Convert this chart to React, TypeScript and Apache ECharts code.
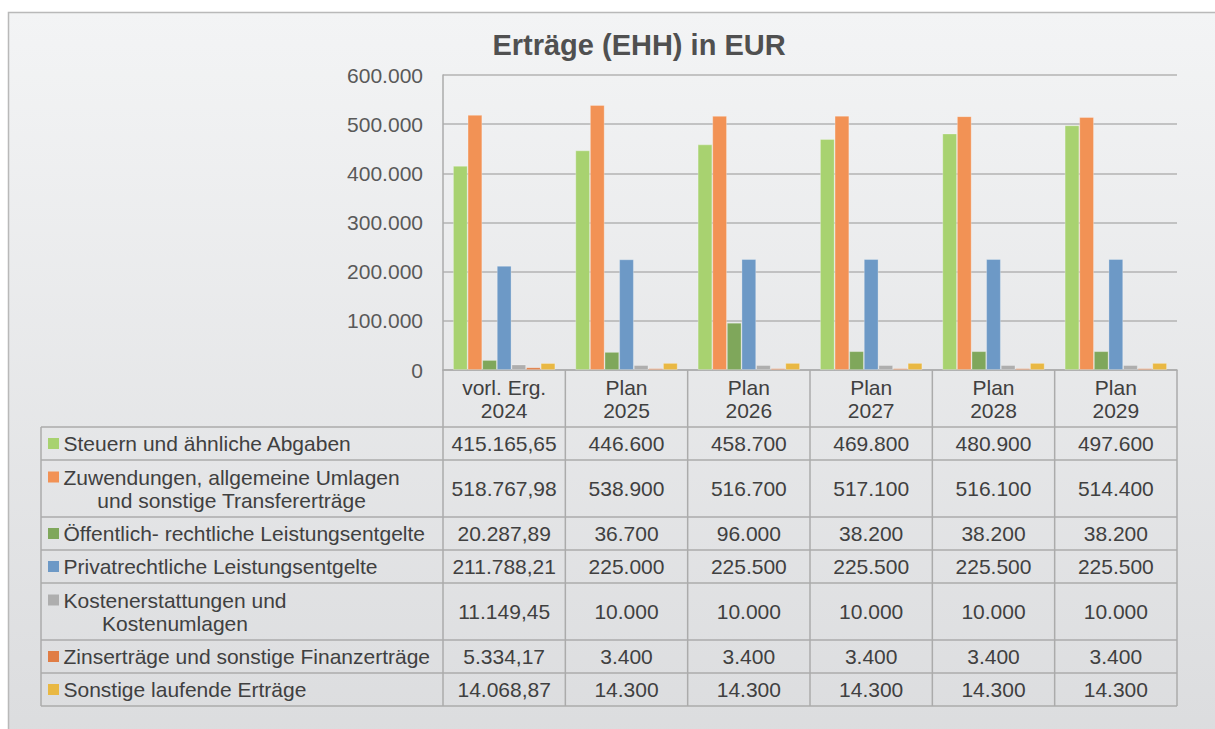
import { useEffect, useRef } from "react";
import * as echarts from "echarts";

const titleText = "Erträge (EHH) in EUR";
const categories = ["vorl. Erg.\n2024", "Plan\n2025", "Plan\n2026", "Plan\n2027", "Plan\n2028", "Plan\n2029"];
const seriesNames = [
  "Steuern und ähnliche Abgaben",
  "Zuwendungen, allgemeine Umlagen\nund sonstige Transfererträge",
  "Öffentlich- rechtliche Leistungsentgelte",
  "Privatrechtliche Leistungsentgelte",
  "Kostenerstattungen und\nKostenumlagen",
  "Zinserträge und sonstige Finanzerträge",
  "Sonstige laufende Erträge",
];
const seriesColors = ["#A8D270", "#F29255", "#7FA75B", "#6D99C6", "#AEAEAE", "#E07D45", "#E9B843"];
const steuern = [415165.65, 446600, 458700, 469800, 480900, 497600];
const zuwendungen = [518767.98, 538900, 516700, 517100, 516100, 514400];
const oeffentlich = [20287.89, 36700, 96000, 38200, 38200, 38200];
const privat = [211788.21, 225000, 225500, 225500, 225500, 225500];
const kosten = [11149.45, 10000, 10000, 10000, 10000, 10000];
const zins = [5334.17, 3400, 3400, 3400, 3400, 3400];
const sonstige = [14068.87, 14300, 14300, 14300, 14300, 14300];
const seriesValues = [steuern, zuwendungen, oeffentlich, privat, kosten, zins, sonstige];
const yMin = 0;
const yMax = 600000;
const yInterval = 100000;

const FONT = '"Liberation Sans", Arial, Helvetica, sans-serif';
const TEXT = "#404040";
const LINE = "#ababab";

function fmt(v: number): string {
  const isInt = Math.abs(v - Math.round(v)) < 1e-9;
  const s = isInt ? String(Math.round(v)) : v.toFixed(2);
  const [i, d] = s.split(".");
  const ii = i.replace(/\B(?=(\d{3})+(?!\d))/g, ".");
  return d ? ii + "," + d : ii;
}

export default function App() {
  const ref = useRef<HTMLDivElement>(null);
  useEffect(() => {
    if (!ref.current) return;
    const chart = echarts.init(ref.current, null, { renderer: "svg" });
    chart.setOption({
      animation: false,
      grid: { left: 443, right: 38, top: 75, bottom: 359, containLabel: false },
      xAxis: {
        type: "category",
        data: categories,
        axisLabel: { show: false },
        axisTick: { show: false },
        axisLine: { show: true, lineStyle: { color: LINE, width: 1.5 } },
      },
      yAxis: {
        type: "value",
        min: yMin,
        max: yMax,
        interval: yInterval,
        axisLine: { show: true, lineStyle: { color: LINE, width: 1.5 } },
        axisTick: { show: false },
        splitLine: { lineStyle: { color: "#b3b3b3", width: 1.5 } },
        axisLabel: {
          formatter: (v: number) => fmt(v),
          fontSize: 21,
          fontFamily: FONT,
          color: "#595959",
          margin: 20,
        },
      },
      series: seriesNames.map((name, k) => ({
        type: "bar",
        name,
        data: seriesValues[k],
        barGap: "0%",
        barCategoryGap: "16.4%",
        itemStyle: { color: seriesColors[k], borderColor: "rgba(255,255,255,0.35)", borderWidth: 0.8 },
      })),
    });

    const ctx = document.createElement("canvas").getContext("2d")!;
    ctx.font = `21px ${FONT}`;

    const yZero = chart.convertToPixel({ yAxisIndex: 0 }, 0) as number;
    const c0 = chart.convertToPixel({ xAxisIndex: 0 }, 0) as number;
    const c1 = chart.convertToPixel({ xAxisIndex: 0 }, 1) as number;
    const band = c1 - c0;
    const gridLeft = c0 - band / 2;
    const colEdges = categories.map((_, i) => gridLeft + i * band);
    const gridRight = gridLeft + categories.length * band;
    const tableLeft = 41;
    const headerH = 57;
    const rowHs = seriesNames.map((n) => (n.split("\n").length > 1 ? 57 : 33));
    const rowTops: number[] = [];
    let yy = yZero + headerH;
    rowHs.forEach((h) => {
      rowTops.push(yy);
      yy += h;
    });
    const tableBottom = yy;

    const els: any[] = [];
    els.push({
      type: "rect",
      z: -100,
      silent: true,
      shape: { x: 8.5, y: 12.5, width: 1230, height: 740 },
      style: {
        fill: new echarts.graphic.LinearGradient(0, 0, 0, 1, [
          { offset: 0, color: "#F3F4F5" },
          { offset: 1, color: "#DBDCDE" },
        ]),
        stroke: "#b9b9b9",
        lineWidth: 1.5,
      },
    });
    els.push({
      type: "text",
      x: 639,
      y: 45,
      style: {
        text: titleText,
        font: `bold 29px ${FONT}`,
        fill: "#505050",
        textAlign: "center",
        textVerticalAlign: "middle",
      },
    });
    const line = (x1: number, y1: number, x2: number, y2: number) =>
      els.push({
        type: "line",
        z: 5,
        shape: { x1, y1, x2, y2 },
        style: { stroke: LINE, lineWidth: 1.5 },
      });
    // horizontal lines
    rowTops.forEach((t) => line(tableLeft, t, gridRight, t));
    line(tableLeft, tableBottom, gridRight, tableBottom);
    // vertical lines
    line(tableLeft, rowTops[0], tableLeft, tableBottom);
    colEdges.forEach((x) => line(x, yZero, x, tableBottom));
    line(gridRight, yZero, gridRight, tableBottom);

    // header
    categories.forEach((c, i) => {
      els.push({
        type: "text",
        z: 6,
        x: colEdges[i] + band / 2,
        y: yZero + headerH / 2,
        style: {
          text: c,
          font: `21px ${FONT}`,
          fill: TEXT,
          textAlign: "center",
          textVerticalAlign: "middle",
          lineHeight: 23,
        },
      });
    });
    // rows
    seriesNames.forEach((name, k) => {
      const top = rowTops[k];
      const h = rowHs[k];
      const lines = name.split("\n");
      const cy = top + h / 2;
      const firstLineY = cy - ((lines.length - 1) * 23) / 2;
      els.push({
        type: "rect",
        z: 6,
        shape: { x: 48, y: firstLineY - 5.5, width: 11, height: 11 },
        style: { fill: seriesColors[k] },
      });
      const widths = lines.map((l) => ctx.measureText(l).width);
      const maxW = Math.max(...widths);
      const textX = 63.5;
      els.push({
        type: "text",
        z: 6,
        x: lines.length > 1 ? textX + maxW / 2 : textX,
        y: cy,
        style: {
          text: name,
          font: `21px ${FONT}`,
          fill: TEXT,
          textAlign: lines.length > 1 ? "center" : "left",
          textVerticalAlign: "middle",
          lineHeight: 23,
        },
      });
      seriesValues[k].forEach((v, i) => {
        els.push({
          type: "text",
          z: 6,
          x: colEdges[i] + band / 2,
          y: cy,
          style: {
            text: fmt(v),
            font: `21px ${FONT}`,
            fill: TEXT,
            textAlign: "center",
            textVerticalAlign: "middle",
          },
        });
      });
    });

    chart.setOption({ graphic: { elements: els } });
    return () => chart.dispose();
  }, []);
  return (
    <div
      ref={ref}
      style={{ position: "fixed", left: 0, top: 0, width: 1215, height: 729, background: "#ffffff" }}
    />
  );
}
